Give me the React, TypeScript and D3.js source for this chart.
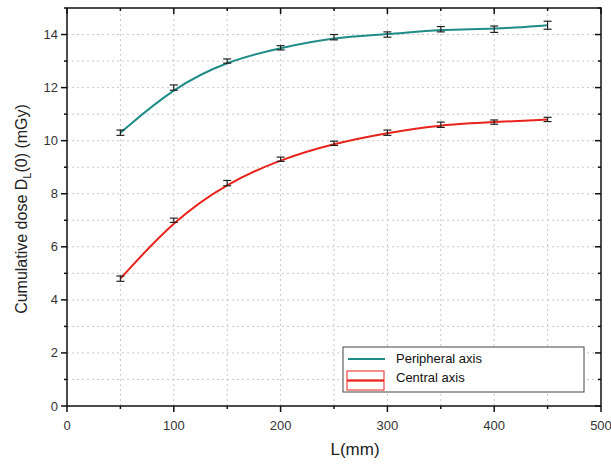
import React from "react";
import * as d3 from "d3";

const lengths = [50, 100, 150, 200, 250, 300, 350, 400, 450];
const peripheral = [10.3, 12.0, 13.0, 13.5, 13.9, 14.0, 14.2, 14.2, 14.35];
const peripheralErr = [0.1, 0.1, 0.08, 0.08, 0.1, 0.1, 0.1, 0.12, 0.15];
const central = [4.8, 7.0, 8.4, 9.3, 9.9, 10.3, 10.6, 10.7, 10.8];
const centralErr = [0.1, 0.08, 0.1, 0.08, 0.08, 0.1, 0.1, 0.08, 0.08];
const xTicks = [0, 100, 200, 300, 400, 500];
const yTicks = [0, 2, 4, 6, 8, 10, 12, 14];
const legendLabels = ["Peripheral axis", "Central axis"];

const TEAL = "#1f8c88";
const RED = "#e8231c";

export default function App() {
  const width = 611;
  const height = 465;
  const margin = { top: 8, right: 10, bottom: 59, left: 67 };

  const x = d3.scaleLinear().domain([0, 500]).range([margin.left, width - margin.right]);
  const y = d3.scaleLinear().domain([0, 15]).range([height - margin.bottom, margin.top]);

  const minorX = d3.range(0, 501, 50);
  const minorY = d3.range(0, 16, 1);

  // smooth fitted look: basis spline through the measured points
  const line = d3
    .line<number>()
    .x((_, i) => x(lengths[i]))
    .y((d) => y(d))
    .curve(d3.curveBasis);

  const font = "'Liberation Sans', Arial, sans-serif";
  const x0 = margin.left;
  const x1 = width - margin.right;
  const y0 = height - margin.bottom;
  const y1 = margin.top;

  const errBars = (vals: number[], errs: number[]) =>
    vals.map((v, i) => {
      const cx = x(lengths[i]);
      return (
        <g key={i} stroke="#222" strokeWidth={1.2}>
          <line x1={cx} x2={cx} y1={y(v + errs[i])} y2={y(v - errs[i])} />
          <line x1={cx - 4} x2={cx + 4} y1={y(v + errs[i])} y2={y(v + errs[i])} />
          <line x1={cx - 4} x2={cx + 4} y1={y(v - errs[i])} y2={y(v - errs[i])} />
        </g>
      );
    });

  return (
    <svg width={width} height={height} style={{ position: "absolute", left: 0, top: 0, background: "white" }}>
      {/* grid */}
      <g stroke="#c8c8c8" strokeDasharray="2,3" strokeWidth={1}>
        {minorX.slice(1, -1).map((t) => (
          <line key={"gx" + t} x1={x(t)} x2={x(t)} y1={y0} y2={y1} />
        ))}
        {minorY.slice(1, -1).map((t) => (
          <line key={"gy" + t} x1={x0} x2={x1} y1={y(t)} y2={y(t)} />
        ))}
      </g>

      <path d={line(peripheral) ?? ""} fill="none" stroke={TEAL} strokeWidth={2} />
      <path d={line(central) ?? ""} fill="none" stroke={RED} strokeWidth={2} />
      {errBars(peripheral, peripheralErr)}
      {errBars(central, centralErr)}

      {/* frame */}
      <rect x={x0} y={y1} width={x1 - x0} height={y0 - y1} fill="none" stroke="#111" strokeWidth={1.5} />

      {/* ticks */}
      <g stroke="#111" strokeWidth={1.5}>
        {minorX.map((t) => (
          <g key={"tx" + t}>
            <line x1={x(t)} x2={x(t)} y1={y0} y2={y0 + (t % 100 === 0 ? 6 : 3)} />
            <line x1={x(t)} x2={x(t)} y1={y1} y2={y1 + (t % 100 === 0 ? 6 : 3)} />
          </g>
        ))}
        {minorY.map((t) => (
          <g key={"ty" + t}>
            <line x1={x0} x2={x0 - (t % 2 === 0 ? 6 : 3)} y1={y(t)} y2={y(t)} />
            <line x1={x1} x2={x1 - (t % 2 === 0 ? 6 : 3)} y1={y(t)} y2={y(t)} />
          </g>
        ))}
      </g>

      <g fontFamily={font} fontSize={13} fill="#333">
        {xTicks.map((t) => (
          <text key={"lx" + t} x={x(t)} y={y0 + 24} textAnchor="middle">
            {t}
          </text>
        ))}
        {yTicks.map((t) => (
          <text key={"ly" + t} x={x0 - 9} y={y(t)} dy="0.35em" textAnchor="end">
            {t}
          </text>
        ))}
      </g>

      <text x={355} y={455} fontFamily={font} fontSize={17} fill="#222" textAnchor="middle">
        L(mm)
      </text>
      <text
        transform={`translate(27,${(y0 + y1) / 2 + 2}) rotate(-90)`}
        fontFamily={font}
        fontSize={16}
        fill="#222"
        textAnchor="middle"
      >
        Cumulative dose D<tspan fontSize={11} dy={4}>L</tspan>
        <tspan dy={-4}>(0) (mGy)</tspan>
      </text>

      {/* legend */}
      <g fontFamily={font} fontSize={13} fill="#111">
        <rect x={343} y={347} width={241} height={45} fill="white" stroke="#444" strokeWidth={1} />
        <line x1={348} x2={385} y1={359} y2={359} stroke={TEAL} strokeWidth={2} />
        <rect x={347} y={371} width={37} height={9} fill="none" stroke={RED} strokeWidth={1} />
        <rect x={347} y={381} width={37} height={9} fill="none" stroke={RED} strokeWidth={1} />
        <line x1={347} x2={384} y1={380.5} y2={380.5} stroke={RED} strokeWidth={1.5} />
        <text x={396} y={363}>{legendLabels[0]}</text>
        <text x={396} y={382}>{legendLabels[1]}</text>
      </g>
    </svg>
  );
}
